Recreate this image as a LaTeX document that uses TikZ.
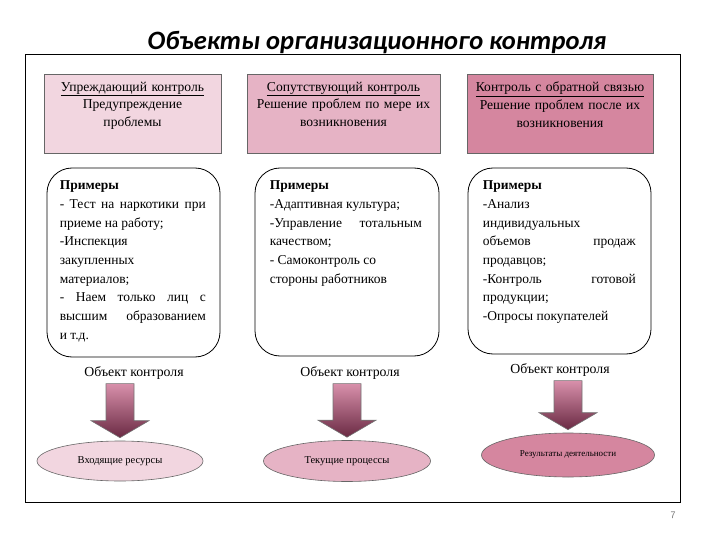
\documentclass[tikz,border=0pt]{standalone}
\usepackage{fontspec}
\setmainfont{Liberation Serif}
\newfontfamily\titlefont{Carlito}
\usetikzlibrary{calc, shapes.geometric}

\definecolor{pinkA}{HTML}{F2D6E0}
\definecolor{pinkB}{HTML}{E6B3C5}
\definecolor{pinkC}{HTML}{D5869F}
\definecolor{arrowtop}{HTML}{D890AB}
\definecolor{arrowbot}{HTML}{6A2A43}

\hyphenpenalty=10000

\begin{document}
\begin{tikzpicture}[x=1pt, y=-1pt,
    headbox/.style={draw=black!60, line width=0.8pt, minimum height=79pt, inner sep=0pt},
    headtext/.style={anchor=north, align=center, inner sep=0pt, font=\fontsize{13.6}{17.8}\selectfont},
    exbox/.style={draw=black, line width=0.8pt, rounded corners=25pt, inner sep=0pt},
    extext/.style={anchor=north west, align=justify, inner sep=0pt, font=\fontsize{13.5}{18.7}\selectfont},
    objlabel/.style={inner sep=0pt, font=\fontsize{13.8}{15}\selectfont},
    resnode/.style={ellipse, draw=black!60, line width=0.6pt, inner sep=0pt},
    arrowshade/.style={top color=arrowtop, bottom color=arrowbot, draw=black!55, line width=0.6pt}]

    % Page and frame
    \useasboundingbox (0,0) rectangle (720,540);
    \draw[line width=0.8pt] (25,54) rectangle (680,502);

    % Title
    \node[anchor=base, inner sep=0pt, font=\titlefont\bfseries\itshape\fontsize{26.5}{30}\selectfont] (title) at (377,50) {Объекты организационного контроля};

    % Kinds of control
    \node[headbox, fill=pinkA, minimum width=177pt] (h1) at (132.5,113.5) {};
    \node[headtext, text width=172pt] (t1) at ($(h1.north)+(0,8)$) {\underline{Упреждающий контроль}\\ Предупреждение\\ проблемы};
    \node[headbox, fill=pinkB, minimum width=193pt] (h2) at (343.5,113.5) {};
    \node[headtext, text width=188pt] (t2) at ($(h2.north)+(0,8)$) {\underline{Сопутствующий контроль}\\ Решение проблем по мере их\\ возникновения};
    \node[headbox, fill=pinkC, minimum width=186pt] (h3) at (560,113.5) {};
    \node[headtext, text width=182pt] (t3) at ($(h3.north)+(0,8)$) {\underline{Контроль с обратной связью}\\ Решение проблем после их\\ возникновения};

    % Examples
    \node[exbox, minimum width=173pt, minimum height=189pt] (e1) at (133.5,262.5) {};
    \node[extext, text width=146pt] (x1) at ($(e1.north west)+(13,13)$) {\textbf{Примеры}\newline
        - Тест на наркотики при\linebreak приеме на работу;\newline
        -Инспекция\newline закупленных\newline материалов;\newline
        - Наем только лиц с\linebreak высшим образованием\linebreak и т.д.};
    \node[exbox, minimum width=184pt, minimum height=188pt] (e2) at (347,262) {};
    \node[extext, text width=152pt] (x2) at ($(e2.north west)+(15,13)$) {\textbf{Примеры}\newline
        -Адаптивная культура;\newline
        -Управление тотальным\linebreak качеством;\newline
        - Самоконтроль со\newline стороны работников};
    \node[exbox, minimum width=183pt, minimum height=186pt] (e3) at (559.5,261) {};
    \node[extext, text width=153pt] (x3) at ($(e3.north west)+(15,13)$) {\textbf{Примеры}\newline
        -Анализ\newline индивидуальных\newline
        объемов продаж\linebreak продавцов;\newline
        -Контроль готовой\linebreak продукции;\newline
        -Опросы покупателей};

    % Objects of control
    \node[objlabel] (o1) at (134,373) {Объект контроля};
    \node[objlabel] (o2) at (350,373) {Объект контроля};
    \node[objlabel] (o3) at (560,370) {Объект контроля};

    \node[resnode, fill=pinkA, minimum width=166pt, minimum height=40pt, font=\fontsize{10.5}{12}\selectfont] (r1) at (120,461) {Входящие ресурсы};
    \node[resnode, fill=pinkB, minimum width=167pt, minimum height=41pt, font=\fontsize{10.5}{12}\selectfont] (r2) at (347,461) {Текущие процессы};
    \node[resnode, fill=pinkC, minimum width=173pt, minimum height=44pt, font=\fontsize{9}{11}\selectfont] (r3) at (568,455) {Результаты деятельности};

    % Block arrows
    \foreach \i in {1,2,3}
        \shadedraw[arrowshade] let \p1=(o\i.south), \p2=(r\i.north) in
            (\x2-14pt,\y1-4pt) -- (\x2+14pt,\y1-4pt) -- (\x2+14pt,\y2+20pt) -- (\x2+29pt,\y2+20pt)
            -- (\x2,\y2+3pt) -- (\x2-29pt,\y2+20pt) -- (\x2-14pt,\y2+20pt) -- cycle;

    % Page number
    \node[inner sep=0pt, text=black!55, font=\sffamily\fontsize{10}{12}\selectfont] (pnum) at (673,515) {7};

\end{tikzpicture}
\end{document}
